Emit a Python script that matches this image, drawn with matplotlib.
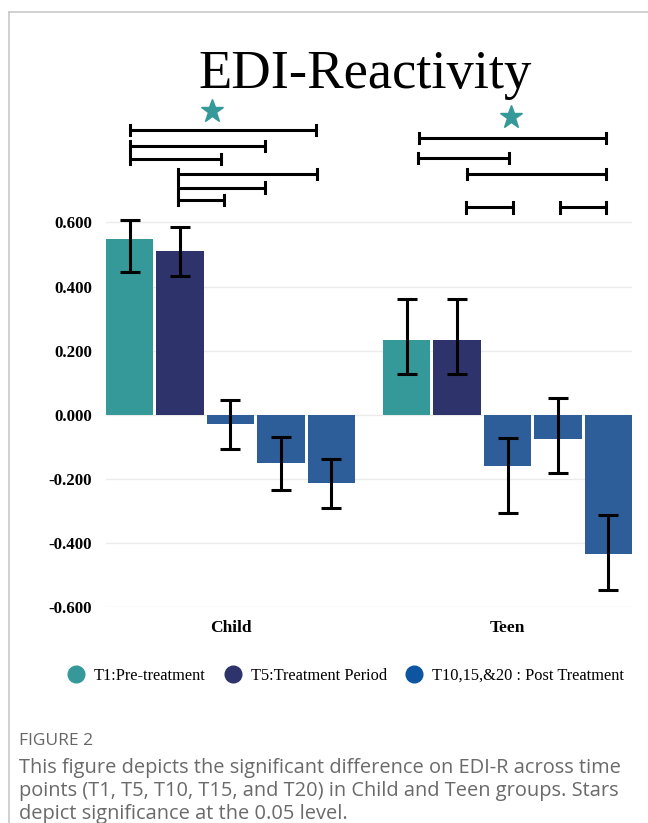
import matplotlib.pyplot as plt
from matplotlib.lines import Line2D

# bar values (mean, lower and upper end of error bar)
groups = ["Child", "Teen"]
child_vals = [0.549, 0.511, -0.028, -0.152, -0.212]
child_lo = [0.446, 0.433, -0.108, -0.235, -0.290]
child_hi = [0.607, 0.587, 0.046, -0.068, -0.137]
teen_vals = [0.232, 0.232, -0.160, -0.077, -0.435]
teen_lo = [0.127, 0.127, -0.306, -0.181, -0.547]
teen_hi = [0.361, 0.361, -0.072, 0.052, -0.314]

# significance brackets: (x start, x end, y) in bar-index units
child_brackets = [(0.0, 3.69, 0.889), (0.0, 2.68, 0.839), (0.0, 1.82, 0.799),
                  (0.95, 3.72, 0.752), (0.95, 2.68, 0.709), (0.95, 1.88, 0.671)]
teen_brackets = [(5.74, 9.45, 0.864), (5.72, 7.52, 0.802), (6.70, 9.46, 0.752),
                 (6.68, 7.60, 0.647), (8.54, 9.46, 0.647)]
stars = [(1.64, 0.948), (7.57, 0.929)]

legend_labels = ["T1:Pre-treatment", "T5:Treatment Period", "T10,15,&20 : Post Treatment"]

TEAL = "#35999a"
NAVY = "#2f336c"
BLUE = "#2e5e99"
bar_colors = [TEAL, NAVY, BLUE, BLUE, BLUE]

serif = ["Liberation Serif", "DejaVu Serif"]

fig = plt.figure(figsize=(6.48, 8.23), dpi=100)
ax = fig.add_axes([106 / 648, 216 / 823, 526 / 648, 512.7 / 823])

child_x = [0, 1, 2, 3, 4]
teen_x = [5.5, 6.5, 7.5, 8.5, 9.5]

for xs, vals, lo, hi in [(child_x, child_vals, child_lo, child_hi),
                         (teen_x, teen_vals, teen_lo, teen_hi)]:
    ax.bar(xs, vals, width=0.94, color=bar_colors, zorder=2)
    mid = [(a + b) / 2 for a, b in zip(lo, hi)]
    half = [(b - a) / 2 for a, b in zip(lo, hi)]
    ax.errorbar(xs, mid, yerr=half, fmt="none", ecolor="black",
                elinewidth=2.2, capsize=7.5, capthick=2.2, zorder=3)

for x0, x1, y in child_brackets + teen_brackets:
    ax.plot([x0, x1], [y, y], color="black", lw=2.2, solid_capstyle="butt",
            clip_on=False, zorder=3)
    for xe in (x0, x1):
        ax.plot([xe, xe], [y - 0.016, y + 0.016], color="black", lw=2.2,
                clip_on=False, zorder=3)

for sx, sy in stars:
    ax.plot(sx, sy, marker="*", markersize=17, color=TEAL, mec=TEAL,
            clip_on=False, zorder=3)

ax.set_xlim(-0.47, 9.97)
ax.set_ylim(-0.6, 1.0)
ax.set_yticks([-0.6, -0.4, -0.2, 0.0, 0.2, 0.4, 0.6])
ax.set_yticklabels([f"{v:.3f}" for v in ax.get_yticks()], family=serif,
                   fontsize=12.2, fontweight="bold")
ax.set_xticks([2, 7.5])
ax.set_xticklabels(groups, family=serif, fontsize=12.5, fontweight="bold")
ax.tick_params(axis="both", length=0)
ax.tick_params(axis="y", pad=10)
ax.tick_params(axis="x", pad=9)
ax.grid(axis="y", color="#ebebeb", lw=1, zorder=0)
for s in ax.spines.values():
    s.set_visible(False)

fig.text(365 / 648, 1 - 88 / 823, "EDI-Reactivity", family=serif, fontsize=39.3,
         ha="center", va="baseline")

handles = [Line2D([], [], ls="none", marker="o", markersize=12, color=c)
           for c in [TEAL, NAVY, "#0d55a0"]]
fig.legend(handles, legend_labels, loc="center", bbox_to_anchor=(346 / 648, 1 - 676 / 823),
           ncol=3, frameon=False, prop={"family": serif, "size": 11.8},
           handletextpad=0.6, columnspacing=1.15, handlelength=1.0)

# panel border and caption
fig.add_artist(Line2D([9 / 648, 9 / 648], [0, 1 - 12 / 823], color="#c8c8c8", lw=1.2))
fig.add_artist(Line2D([9 / 648, 1], [1 - 12 / 823, 1 - 12 / 823], color="#c8c8c8", lw=1.2))

sans = ["Open Sans", "DejaVu Sans"]
fig.text(19 / 648, 1 - 741 / 823, "FIGURE 2", family=sans, fontsize=12.5,
         color="#666666", va="center")
caption = ("This figure depicts the significant difference on EDI-R across time\n"
           "points (T1, T5, T10, T15, and T20) in Child and Teen groups. Stars\n"
           "depict significance at the 0.05 level.")
fig.text(19 / 648, 1 - 758 / 823, caption, family=sans, fontsize=14.4,
         color="#6a6a6a", va="top", linespacing=1.2)

fig.savefig("out.png", dpi=100)
